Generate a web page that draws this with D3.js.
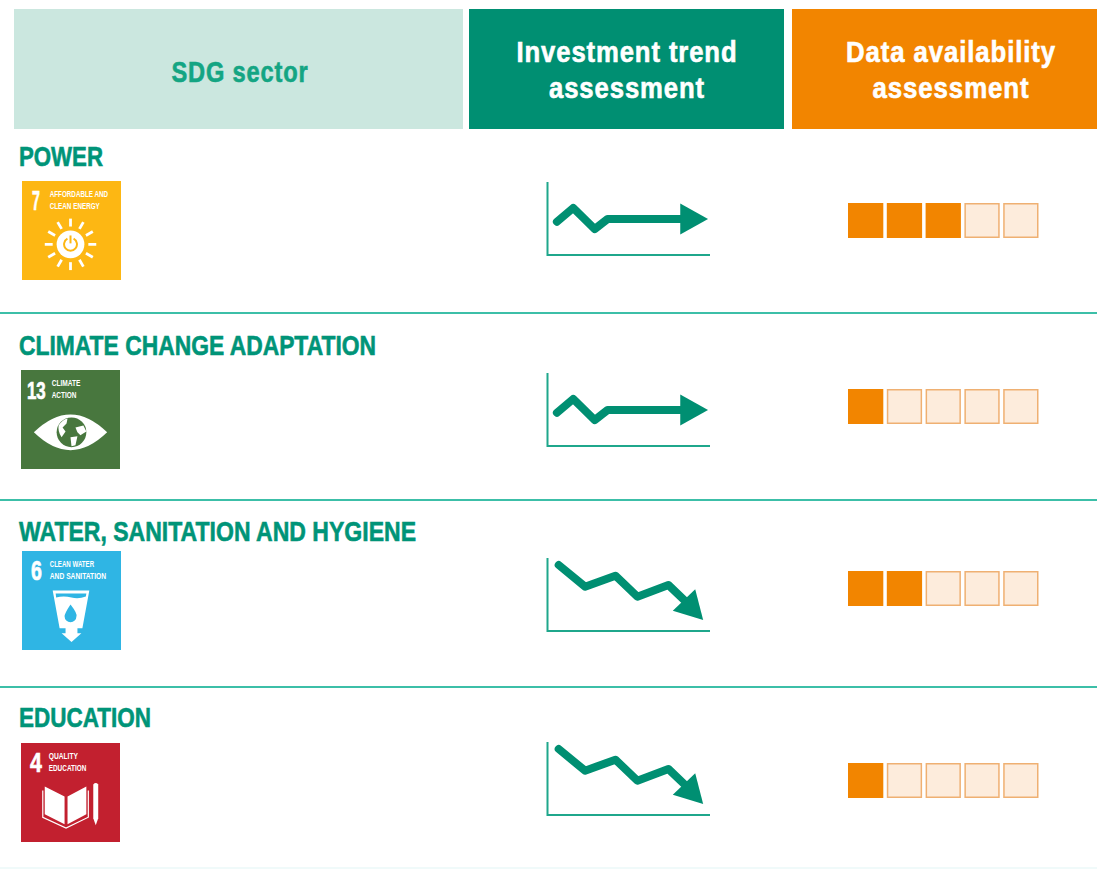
<!DOCTYPE html>
<html>
<head>
<meta charset="utf-8">
<title>SDG sector assessment</title>
<script src="https://cdn.jsdelivr.net/npm/d3@7"></script>
<style>
   body { margin: 0; background: #fff; }
   svg { display: block; }
   text { font-family: "Liberation Sans Narrow", "Liberation Sans", sans-serif; font-weight: bold; }
</style>
</head>
<body>
<script>
// chart data
let sectors = ['POWER', 'CLIMATE CHANGE ADAPTATION', 'WATER, SANITATION AND HYGIENE', 'EDUCATION'];
let sdgNumbers = ['7', '13', '6', '4'];
let sdgCaptions = [['AFFORDABLE AND', 'CLEAN ENERGY'], ['CLIMATE', 'ACTION'], ['CLEAN WATER', 'AND SANITATION'], ['QUALITY', 'EDUCATION']];
let sdgColors = ['#fdb713', '#48773e', '#2fb5e4', '#c2202f'];
let availability = [3, 1, 2, 1];   // filled squares out of 5
let availabilitySteps = [1, 2, 3, 4, 5];
let trendTypes = ['flat', 'flat', 'falling', 'falling'];

// trend lines in axis units (0-100), the last two points are arrow base and tip
let flatTrendX = [5.8, 15.8, 29.1, 37, 81.7, 98.8];
let flatTrendY = [45.6, 64.4, 35.6, 49.3, 49.3, 49.3];
let fallingTrendX = [6.9, 23.1, 41.8, 55.3, 74.4, 84, 95.8];
let fallingTrendY = [90.4, 60.7, 75.8, 47, 63, 42.5, 15];

// layout
let width = 1097;
let height = 871;
let green = '#008f72';
let titleGreen = '#009478';
let lineTeal = '#3cbfa8';
let orange = '#f28500';
let rowTitleY = [166, 355, 541, 727];
let rowTitleWidth = [84, 357, 397, 132];
let iconX = [22, 21, 22, 21];
let iconY = [181, 370, 551, 743];
let axisBottom = [255, 446, 631, 815];
let squareY = [203, 389, 571, 763];
let separators = [313, 500, 687];

let svg = d3.select('body').append('svg')
   .attr('width', width)
   .attr('height', height);

// text stretched to the measured width of the original lettering
let addText = (parent, str, x, y, size, len, color, anchor, weight) => {
   return parent.append('text')
      .attr('x', x)
      .attr('y', y)
      .attr('font-size', size)
      .attr('fill', color)
      .attr('stroke', color)
      .attr('stroke-width', weight || 0)
      .attr('text-anchor', anchor || 'start')
      .attr('textLength', len)
      .attr('lengthAdjust', 'spacingAndGlyphs')
      .text(str);
}

// HEADER
let headers = [
   { x: 14, w: 449, fill: '#cbe7df' },
   { x: 469, w: 315, fill: green },
   { x: 792, w: 305, fill: orange }
];
svg.selectAll('.header')
   .data(headers)
   .enter()
   .append('rect')
   .attr('class', 'header')
   .attr('x', (d) => d.x)
   .attr('y', 9)
   .attr('width', (d) => d.w)
   .attr('height', 120)
   .attr('fill', (d) => d.fill);

addText(svg, 'SDG sector', 240, 82, 29, 137, '#14a583', 'middle', 0.6).attr('letter-spacing', 1);
addText(svg, 'Investment trend', 627, 62, 29, 221, '#fff', 'middle', 0.6).attr('letter-spacing', 1);
addText(svg, 'assessment', 627, 98, 29, 156, '#fff', 'middle', 0.6).attr('letter-spacing', 1);
addText(svg, 'Data availability', 951, 62, 29, 210, '#fff', 'middle', 0.6).attr('letter-spacing', 1);
addText(svg, 'assessment', 951, 98, 29, 157, '#fff', 'middle', 0.6).attr('letter-spacing', 1);

// SEPARATORS
svg.selectAll('.separator')
   .data(separators)
   .enter()
   .append('line')
   .attr('class', 'separator')
   .attr('x1', 0)
   .attr('x2', width)
   .attr('y1', (d) => d)
   .attr('y2', (d) => d)
   .attr('stroke', lineTeal)
   .attr('stroke-width', 2);

svg.append('line')
   .attr('x1', 0)
   .attr('x2', width)
   .attr('y1', 868)
   .attr('y2', 868)
   .attr('stroke', '#f0fafa')
   .attr('stroke-width', 2);

// SDG ICONS, drawn on a 0-100 grid
let drawSun = (g, color) => {
   let cx = 49, cy = 64;
   d3.range(12).forEach((i) => {
      let a = i * Math.PI / 6;
      g.append('line')
         .attr('x1', cx + 18 * Math.cos(a))
         .attr('y1', cy + 18 * Math.sin(a))
         .attr('x2', cx + 26 * Math.cos(a))
         .attr('y2', cy + 26 * Math.sin(a))
         .attr('stroke', '#fff')
         .attr('stroke-width', 2.8);
   });
   g.append('circle').attr('cx', cx).attr('cy', cy).attr('r', 14).attr('fill', '#fff');
   g.append('path')
      .attr('d', d3.arc()({ innerRadius: 5.5, outerRadius: 7.5, startAngle: 0.5, endAngle: 2 * Math.PI - 0.5 }))
      .attr('transform', `translate(${cx},${cy})`)
      .attr('fill', color);
   g.append('rect').attr('x', cx - 1).attr('y', cy - 9).attr('width', 2).attr('height', 8).attr('fill', color);
}

let drawEye = (g, color) => {
   g.append('path')
      .attr('d', 'M13,63 Q50,27 87,63 Q50,99 13,63 Z')
      .attr('fill', '#fff');
   g.append('circle').attr('cx', 51).attr('cy', 63).attr('r', 15).attr('fill', color);
   g.append('path')
      .attr('d', 'M38,56 Q42,50 47,49 L46,54 L42,58 L45,62 L41,68 Q37,62 38,56 Z M55,58 L63,56 L66,62 L60,66 L57,63 Z M50,68 L57,67 L55,76 L51,77 Z')
      .attr('fill', '#fff');
}

let drawCup = (g, color) => {
   g.append('path')
      .attr('d', 'M31,40 L68,40 L61,78 L56,78 L56,83 L60,83 L50,92 L40,83 L44,83 L44,78 L38,78 Z')
      .attr('fill', '#fff');
   g.append('path')
      .attr('d', 'M34,43 L65,43 L64.5,46 Q57,49 50,47 Q42,45 34.5,47 Z')
      .attr('fill', color);
   g.append('path')
      .attr('d', 'M49,54 Q56,63 55,66 A6,6 0 0 1 43,66 Q43,63 49,54 Z')
      .attr('fill', color);
}

let drawBook = (g) => {
   g.append('path')
      .attr('d', 'M24,44 L44,54 L44,82 L24,72 Z M47,54 L66,44 L66,72 L47,82 Z')
      .attr('fill', '#fff');
   g.append('path')
      .attr('d', 'M22,48 L22,75 L45.5,86 L68,75 L68,48')
      .attr('fill', 'none')
      .attr('stroke', '#fff')
      .attr('stroke-width', 1.2);
   g.append('path')
      .attr('d', 'M73,42 Q75.5,39 78,42 L78,76 L75.5,83 L73,76 Z')
      .attr('fill', '#fff');
}

let iconDrawers = [drawSun, drawEye, drawCup, drawBook];
let numberPos = [[10, 8], [6, 19], [9, 11], [9, 12]];
let numberSize = [27, 24, 27, 27];
let captionPos = [[28, 59], [31, 29], [28, 57], [28, 38]];

sectors.forEach((sector, i) => {
   let row = svg.append('g').attr('class', 'row');

   addText(row, sector, 19, rowTitleY[i], 28.5, rowTitleWidth[i], titleGreen, 'start', 0.6);

   let icon = row.append('g')
      .attr('transform', `translate(${iconX[i]},${iconY[i]}) scale(0.99)`);
   icon.append('rect')
      .attr('width', 100)
      .attr('height', 100)
      .attr('fill', sdgColors[i]);
   addText(icon, sdgNumbers[i], numberPos[i][0], 29, numberSize[i], numberPos[i][1], '#fff', 'start', 0.7);
   sdgCaptions[i].forEach((line, k) => {
      let w = captionPos[i][1] * line.length / d3.max(sdgCaptions[i], (c) => c.length);
      addText(icon, line, captionPos[i][0], 16 + k * 12.5, 9, w, '#fff');
   });
   iconDrawers[i](icon, sdgColors[i]);

   // trend panel
   let x = d3.scaleLinear().domain([0, 100]).range([547.5, 710]);
   let y = d3.scaleLinear().domain([0, 100]).range([axisBottom[i], axisBottom[i] - 73]);
   let xs = trendTypes[i] === 'flat' ? flatTrendX : fallingTrendX;
   let ys = trendTypes[i] === 'flat' ? flatTrendY : fallingTrendY;
   let pts = xs.map((v, k) => [x(v), y(ys[k])]);
   let tip = pts[pts.length - 1];
   let base = pts[pts.length - 2];

   row.append('path')
      .attr('d', d3.line()([[x(0), y(100)], [x(0), y(0)], [x(100), y(0)]]))
      .attr('fill', 'none')
      .attr('stroke', '#1fa78c')
      .attr('stroke-width', 2);

   row.append('path')
      .attr('d', d3.line()(pts.slice(0, -1)))
      .attr('fill', 'none')
      .attr('stroke', green)
      .attr('stroke-width', 8)
      .attr('stroke-linecap', 'round')
      .attr('stroke-linejoin', 'round');

   // arrow head, perpendicular to the last segment
   let dx = tip[0] - base[0];
   let dy = tip[1] - base[1];
   let len = Math.sqrt(dx * dx + dy * dy);
   let half = 15.5;
   row.append('path')
      .attr('d', d3.line()([
         tip,
         [base[0] - dy / len * half, base[1] + dx / len * half],
         [base[0] + dy / len * half, base[1] - dx / len * half]
      ]) + 'Z')
      .attr('fill', green);

   // availability squares
   let band = d3.scaleBand().domain(availabilitySteps).range([848, 1038.5]).paddingInner(0.09);
   row.selectAll('.square')
      .data(availabilitySteps)
      .enter()
      .append('rect')
      .attr('class', 'square')
      .attr('x', (d) => band(d) + 0.75)
      .attr('y', squareY[i] + 0.75)
      .attr('width', band.bandwidth() - 1.5)
      .attr('height', 33.5)
      .attr('fill', (d) => d <= availability[i] ? orange : '#fdecdc')
      .attr('stroke', (d) => d <= availability[i] ? orange : '#efb072')
      .attr('stroke-width', 1.5);
});
</script>
</body>
</html>
